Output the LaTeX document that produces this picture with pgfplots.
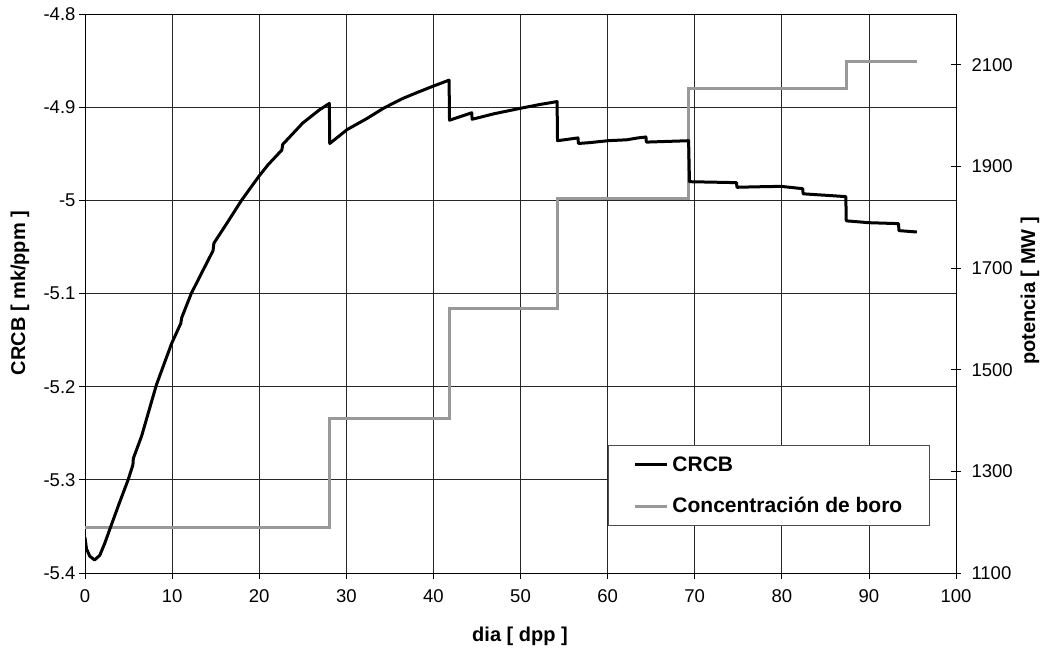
\documentclass[border=0pt]{standalone}
\usepackage{fontspec}
\setmainfont{Liberation Sans}
\usepackage{pgfplots}
\pgfplotsset{compat=1.18}
\definecolor{borogray}{RGB}{153,153,153}
\begin{document}
\begin{tikzpicture}[x=1pt,y=1pt]
\path[use as bounding box] (0,0) rectangle (1047,649);
% left axis with grid
\begin{axis}[
  at={(85pt,76pt)}, anchor=south west,
  scale only axis, width=871pt, height=559pt,
  xmin=0, xmax=100, ymin=-5.4, ymax=-4.8,
  xtick={0,10,...,100},
  ytick={-5.4,-5.3,-5.2,-5.1,-5,-4.9,-4.8},
  yticklabels={-5.4,-5.3,-5.2,-5.1,-5,-4.9,-4.8},
  xtick pos=lower, ytick pos=left,
  tick align=outside, major tick length=6pt,
  grid=major, major grid style={black!85, line width=0.7pt},
  axis line style={black, line width=0.8pt},
  tick style={black, line width=0.8pt},
  ticklabel style={font=\fontsize{18.5}{21}\selectfont},
  xticklabel style={yshift=-7pt},
  /pgf/number format/assume math mode=true,
  /pgf/number format/1000 sep={},
]
\addplot[draw=none] coordinates {(0,-5)};
\end{axis}
% right axis with boron steps
\begin{axis}[
  at={(85pt,76pt)}, anchor=south west,
  scale only axis, width=871pt, height=559pt,
  xmin=0, xmax=100, ymin=1100, ymax=2200,
  axis x line=none, axis y line*=right,
  ytick={1100,1300,...,2100},
  tick align=center, major tick length=10pt,
  axis line style={black, line width=0.8pt},
  tick style={black, line width=0.8pt},
  ticklabel style={font=\fontsize{18.5}{21}\selectfont},
  yticklabel style={xshift=7pt},
  /pgf/number format/assume math mode=true,
  /pgf/number format/1000 sep={},
  legend style={at={(0.6005,0.229)}, anchor=north west,
    draw=black!70, line width=0.8pt, fill=white,
    font=\bfseries\fontsize{21}{24}\selectfont,
    inner xsep=25pt, inner ysep=9pt, row sep=21pt, column sep=2pt,
    nodes={inner sep=2pt}},
  legend cell align=left,
  legend image code/.code={\draw[#1, line width=3pt] (0pt,0pt) -- (32pt,0pt);},
]
\addlegendimage{black}
\addlegendentry{CRCB}
\addplot[borogray, line width=3pt] coordinates {
  (0,1190) (28.1,1190) (28.1,1405) (41.9,1405) (41.9,1621) (54.3,1621)
  (54.3,1836) (69.3,1836) (69.3,2053) (87.4,2053) (87.4,2106) (95.5,2106)
};
\addlegendentry{Concentración de boro}
\end{axis}
% CRCB curve on top
\begin{axis}[
  at={(85pt,76pt)}, anchor=south west,
  scale only axis, width=871pt, height=559pt,
  xmin=0, xmax=100, ymin=-5.4, ymax=-4.8,
  hide axis,
]
\addplot[black, line width=3pt, line join=round] coordinates {
(0,-5.362) (0.17,-5.374) (0.55,-5.382) (1.1,-5.386) (1.7,-5.381) (2.27,-5.368)
(2.85,-5.353) (3.9,-5.326) (4.95,-5.300) (5.5,-5.284) (5.55,-5.277) (6.5,-5.253)
(8.2,-5.198) (9.93,-5.154) (11.0,-5.132) (11.1,-5.126) (12.2,-5.100) (13.5,-5.076)
(14.7,-5.054) (14.8,-5.046) (16.4,-5.023) (17.97,-5.000) (19.9,-4.975) (21.0,-4.962)
(22.6,-4.946) (22.7,-4.940) (25.0,-4.917) (26.9,-4.903) (28.05,-4.896) (28.1,-4.939)
(30.1,-4.924) (32.4,-4.912) (34.3,-4.901) (36.4,-4.891) (38.2,-4.884) (40.1,-4.877)
(41.8,-4.871) (41.85,-4.914) (44.4,-4.906) (44.45,-4.913) (47.0,-4.907) (50.1,-4.901)
(52.3,-4.897) (54.2,-4.894) (54.25,-4.936) (56.6,-4.933) (56.65,-4.939) (58.0,-4.938)
(60.05,-4.936) (62.2,-4.935) (63.5,-4.933) (64.4,-4.932) (64.45,-4.9375) (69.3,-4.936)
(69.4,-4.980) (74.8,-4.981) (74.85,-4.986) (77.0,-4.9855) (79.9,-4.985) (82.4,-4.9875)
(82.45,-4.993) (87.35,-4.996) (87.4,-5.022) (90.0,-5.024) (93.4,-5.025) (93.45,-5.0325)
(95.5,-5.034)
};
\end{axis}
\node[font=\bfseries\fontsize{20}{24}\selectfont] at (520,13) {dia [ dpp ]};
\node[font=\bfseries\fontsize{20}{24}\selectfont, rotate=90] at (20,356) {CRCB [ mk/ppm ]};
\node[font=\bfseries\fontsize{20}{24}\selectfont, rotate=90] at (1030,358) {potencia [ MW ]};
\end{tikzpicture}
\end{document}
